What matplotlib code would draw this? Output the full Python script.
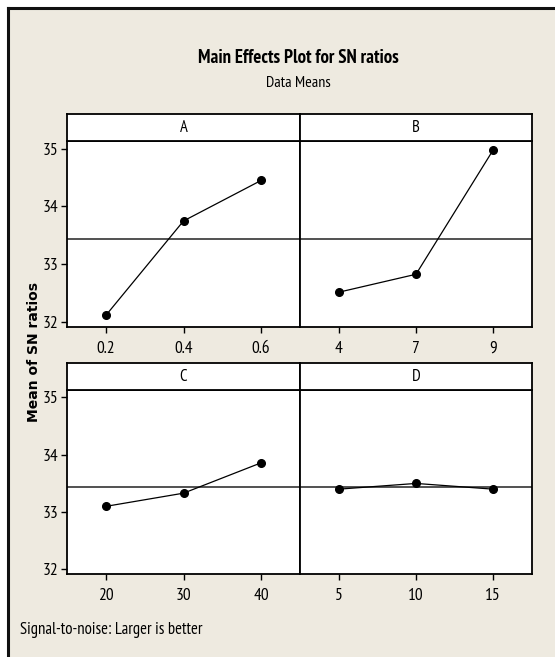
import matplotlib
matplotlib.use('Agg')
import matplotlib.pyplot as plt
from matplotlib.patches import Rectangle
import numpy as np

# data
factors = ['A', 'B', 'C', 'D']
levels_A = ['0.2', '0.4', '0.6']
levels_B = ['4', '7', '9']
levels_C = ['20', '30', '40']
levels_D = ['5', '10', '15']
sn_A = [32.12, 33.75, 34.45]
sn_B = [32.52, 32.83, 34.98]
sn_C = [33.10, 33.33, 33.86]
sn_D = [33.40, 33.50, 33.40]
grand_mean = np.mean(sn_A + sn_B + sn_C + sn_D)

levels = [levels_A, levels_B, levels_C, levels_D]
means = [sn_A, sn_B, sn_C, sn_D]

narrow = ['PT Sans Narrow', 'DejaVu Sans']

W, H = 555, 657
bg = '#EEEAE0'
fig = plt.figure(figsize=(W / 100, H / 100), dpi=100, facecolor='white')

def box(x0, y0, x1, y1):
    # pixel box (top-left origin) -> figure fraction rect
    return [x0 / W, 1 - y1 / H, (x1 - x0) / W, (y1 - y0) / H]

# beige panel with dark border on top and left
fig.patches.append(Rectangle((8 / W, 0), 1, 1 - 8 / H, transform=fig.transFigure,
                             facecolor=bg, edgecolor='none', zorder=-10))
fig.add_artist(plt.Line2D([8 / W, 1], [1 - 8 / H, 1 - 8 / H], color='#111111', lw=2.2))
fig.add_artist(plt.Line2D([8 / W, 8 / W], [0, 1 - 8 / H], color='#111111', lw=2.2))

cols = [(67, 300), (300, 532)]
rows = [(114, 141, 327), (363, 390, 574)]

for i, f in enumerate(factors):
    r, c = divmod(i, 2)
    x0, x1 = cols[c]
    st, at, ab = rows[r]
    ax = fig.add_axes(box(x0, at, x1, ab))
    sx = fig.add_axes(box(x0, st, x1, at))
    sx.set_xticks([]); sx.set_yticks([])
    sx.text(0.5, 0.47, f, ha='center', va='center', fontsize=12, family=narrow,
            transform=sx.transAxes)
    for s in sx.spines.values():
        s.set_linewidth(1.3)

    pos = np.arange(len(levels[i]))
    ax.axhline(grand_mean, color='#333333', lw=1.2)
    ax.plot(pos, means[i], color='black', lw=0.9, marker='o', ms=5.5)
    ax.set_xlim(-0.5, 2.5)
    ax.set_ylim(31.92, 35.13)
    ax.set_xticks(pos)
    ax.set_xticklabels(levels[i], family=narrow, fontsize=12.5)
    ax.set_yticks([32, 33, 34, 35])
    ax.tick_params(length=4, width=1)
    ax.tick_params(axis='x', pad=6)
    ax.tick_params(axis='y', pad=2)
    if c == 0:
        ax.set_yticklabels(['32', '33', '34', '35'], family=narrow, fontsize=12.5)
    else:
        ax.tick_params(axis='y', left=False, labelleft=False)
    for s in ax.spines.values():
        s.set_linewidth(1.3)

fig.text(298 / W, 1 - 58 / H, 'Main Effects Plot for SN ratios', ha='center', va='center',
         fontsize=13.5, fontweight='bold', family=narrow)
fig.text(298 / W, 1 - 83 / H, 'Data Means', ha='center', va='center',
         fontsize=11.5, family=narrow)
fig.text(34 / W, 1 - 352 / H, 'Mean of SN ratios', ha='center', va='center', rotation=90,
         fontsize=10, fontweight='bold', family='DejaVu Sans')
fig.text(20 / W, 1 - 630 / H, 'Signal-to-noise: Larger is better', ha='left', va='center',
         fontsize=12, family=narrow)

fig.savefig('out.png', dpi=100, facecolor=fig.get_facecolor())
